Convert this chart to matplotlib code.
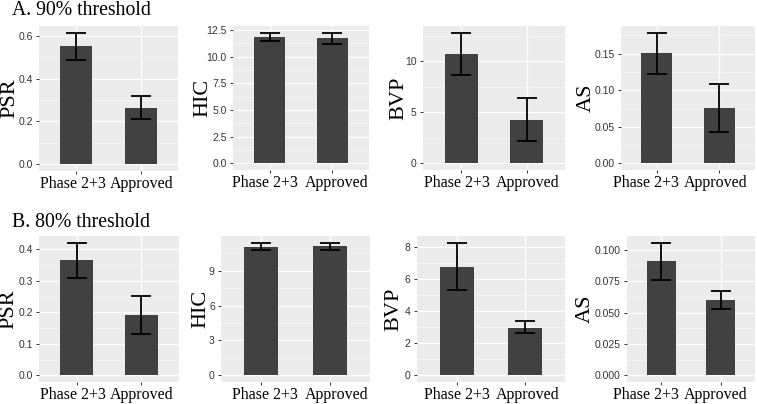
import matplotlib
matplotlib.use("Agg")
import matplotlib.pyplot as plt
import matplotlib.transforms as mtransforms
import numpy as np

W, H = 757, 404
DPI = 100

categories = ["Phase 2+3", "Approved"]
row_titles = ["A. 90% threshold", "B. 80% threshold"]
metrics = ["PSR", "HIC", "BVP", "AS"]

# 90% threshold
a_mean = {"PSR": [0.551, 0.265], "HIC": [11.8, 11.7], "BVP": [10.74, 4.26], "AS": [0.1509, 0.0757]}
a_lo = {"PSR": [0.486, 0.211], "HIC": [11.46, 11.18], "BVP": [8.69, 2.15], "AS": [0.1222, 0.0425]}
a_hi = {"PSR": [0.614, 0.318], "HIC": [12.25, 12.22], "BVP": [12.79, 6.41], "AS": [0.1787, 0.109]}
a_ticks = {"PSR": [0.0, 0.2, 0.4, 0.6], "HIC": [0.0, 2.5, 5.0, 7.5, 10.0, 12.5],
           "BVP": [0, 5, 10], "AS": [0.00, 0.05, 0.10, 0.15]}
a_ticklabels = {"PSR": ["0.0", "0.2", "0.4", "0.6"],
                "HIC": ["0.0", "2.5", "5.0", "7.5", "10.0", "12.5"],
                "BVP": ["0", "5", "10"], "AS": ["0.00", "0.05", "0.10", "0.15"]}

# 80% threshold
b_mean = {"PSR": [0.365, 0.19], "HIC": [11.06, 11.09], "BVP": [6.74, 2.93], "AS": [0.0907, 0.0597]}
b_lo = {"PSR": [0.308, 0.13], "HIC": [10.77, 10.77], "BVP": [5.29, 2.6], "AS": [0.0755, 0.0525]}
b_hi = {"PSR": [0.421, 0.253], "HIC": [11.34, 11.4], "BVP": [8.24, 3.37], "AS": [0.1056, 0.0672]}
b_ticks = {"PSR": [0.0, 0.1, 0.2, 0.3, 0.4], "HIC": [0, 3, 6, 9],
           "BVP": [0, 2, 4, 6, 8], "AS": [0.0, 0.025, 0.05, 0.075, 0.1]}
b_ticklabels = {"PSR": ["0.0", "0.1", "0.2", "0.3", "0.4"], "HIC": ["0", "3", "6", "9"],
                "BVP": ["0", "2", "4", "6", "8"],
                "AS": ["0.000", "0.025", "0.050", "0.075", "0.100"]}

# panel boxes in pixels: (x0, x1, y_top, y_bottom, ylabel x centre)
panels_a = [(39, 178, 26, 171, 10), (233, 369, 26, 170, 203), (423, 565, 26, 170, 399), (621, 755, 26, 170, 586)]
panels_b = [(39, 179, 236, 382, 9), (221, 370, 236, 382, 201), (417, 565, 236, 382, 394), (627, 755, 236, 382, 585)]
# x label centres (pixels) per column
label_cx = [(73, 142), (265, 337), (457, 528), (646, 716)]

BG = "#EBEBEB"
BAR = "#414141"

fig = plt.figure(figsize=(W / DPI, H / DPI), dpi=DPI)
fig.patch.set_facecolor("white")

def draw_panel(box, col, metric, mean, lo, hi, ticks, ticklabels):
    x0, x1, yt, yb, lx = box
    ax = fig.add_axes([x0 / W, 1 - yb / H, (x1 - x0) / W, (yb - yt) / H])
    ax.set_facecolor(BG)
    xs = np.arange(1, len(categories) + 1)
    m = np.array(mean)
    l = np.array(lo)
    h = np.array(hi)
    ax.bar(xs, m, width=0.5, color=BAR, zorder=3)
    ax.errorbar(xs, m, yerr=[m - l, h - m], fmt="none", ecolor="black",
                elinewidth=1.3, capsize=7, capthick=1.3, zorder=4)
    span = h.max()
    ax.set_ylim(-0.05 * span, h.max() + 0.05 * span)
    xl0, xl1 = 0.42, 2.58
    ax.set_xlim(xl0, xl1)
    ax.set_yticks(ticks)
    ax.set_yticklabels(ticklabels, fontsize=7.5, color="#333333", family="Liberation Sans")
    minors = [(ticks[i] + ticks[i + 1]) / 2 for i in range(len(ticks) - 1)]
    step = ticks[1] - ticks[0]
    if ticks[-1] + step / 2 < h.max() * 1.05:
        minors.append(ticks[-1] + step / 2)
    ax.set_yticks(minors, minor=True)
    ax.set_xticks(xs)
    ax.set_xticklabels([])
    trans = mtransforms.offset_copy(
        mtransforms.blended_transform_factory(ax.transData, ax.transAxes),
        fig=fig, x=0, y=-5, units="dots")
    for k, cat in enumerate(categories):
        xd = xl0 + (label_cx[col][k] - x0) / (x1 - x0) * (xl1 - xl0)
        ax.text(xd, 0, cat, transform=trans, ha="center", va="top",
                fontsize=11.5, family="Liberation Serif", color="black")
    ax.grid(True, which="major", color="white", linewidth=1.0, zorder=0)
    ax.grid(True, which="minor", axis="y", color="#F6F6F6", linewidth=0.6, zorder=0)
    ax.set_axisbelow(True)
    for s in ax.spines.values():
        s.set_visible(False)
    ax.tick_params(axis="both", which="major", length=2.5, width=0.7, color="#333333", pad=2)
    ax.tick_params(axis="y", which="minor", length=0)
    fig.text(lx / W, 1 - ((yt + yb) / 2) / H, metric, rotation=90, ha="center", va="center",
             fontsize=16, family="Liberation Serif")
    return ax

for i, mt in enumerate(metrics):
    draw_panel(panels_a[i], i, mt, a_mean[mt], a_lo[mt], a_hi[mt], a_ticks[mt], a_ticklabels[mt])
    draw_panel(panels_b[i], i, mt, b_mean[mt], b_lo[mt], b_hi[mt], b_ticks[mt], b_ticklabels[mt])

fig.text(12 / W, 1 - 15 / H, row_titles[0], ha="left", va="baseline", fontsize=14.2, family="Liberation Serif")
fig.text(12 / W, 1 - 227 / H, row_titles[1], ha="left", va="baseline", fontsize=14.2, family="Liberation Serif")

fig.savefig("out.png", dpi=DPI, facecolor="white")
